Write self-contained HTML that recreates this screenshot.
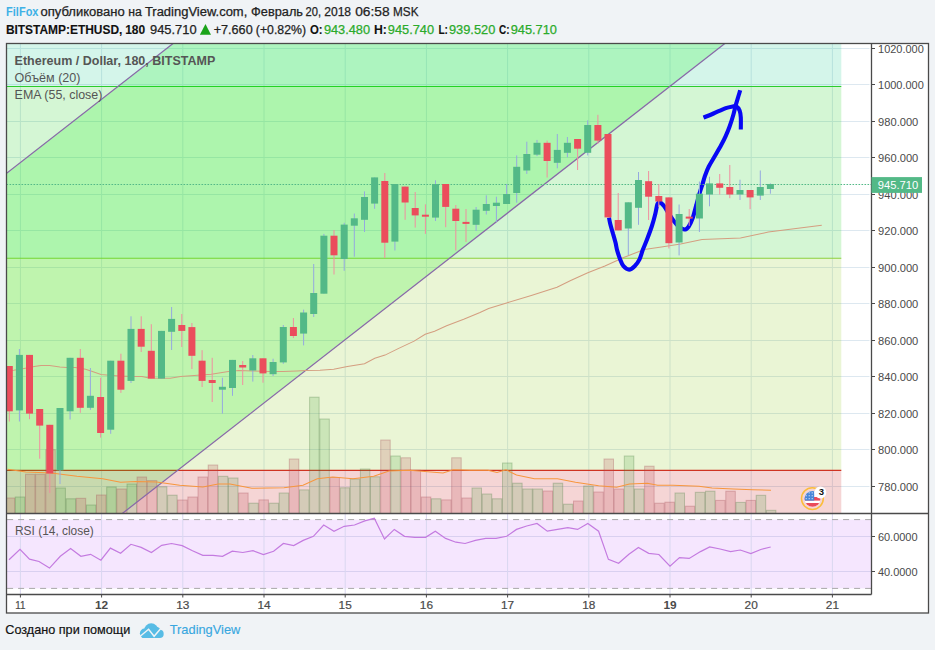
<!DOCTYPE html>
<html><head><meta charset="utf-8"><style>
html,body{margin:0;padding:0;width:935px;height:650px;overflow:hidden;background:#f0f3f6;font-family:"Liberation Sans",sans-serif;}
</style></head><body>
<svg width="935" height="650" viewBox="0 0 935 650" style="position:absolute;left:0;top:0">
<defs><clipPath id="main"><rect x="6.5" y="43.5" width="865.0" height="470.0"/></clipPath>
<clipPath id="rsi"><rect x="6.5" y="513.5" width="865.0" height="81.0"/></clipPath>
<clipPath id="flag"><circle cx="812.5" cy="498.9" r="7.9"/></clipPath></defs>
<rect x="6.5" y="43.5" width="922.0" height="569.5" fill="#fff"/>
<g clip-path="url(#main)">
<line x1="6.5" y1="48.5" x2="869.5" y2="48.5" stroke="#dde8f0" stroke-width="1"/>
<line x1="6.5" y1="84.5" x2="869.5" y2="84.5" stroke="#dde8f0" stroke-width="1"/>
<line x1="6.5" y1="121.5" x2="869.5" y2="121.5" stroke="#dde8f0" stroke-width="1"/>
<line x1="6.5" y1="157.5" x2="869.5" y2="157.5" stroke="#dde8f0" stroke-width="1"/>
<line x1="6.5" y1="194.5" x2="869.5" y2="194.5" stroke="#dde8f0" stroke-width="1"/>
<line x1="6.5" y1="230.5" x2="869.5" y2="230.5" stroke="#dde8f0" stroke-width="1"/>
<line x1="6.5" y1="267.5" x2="869.5" y2="267.5" stroke="#dde8f0" stroke-width="1"/>
<line x1="6.5" y1="303.5" x2="869.5" y2="303.5" stroke="#dde8f0" stroke-width="1"/>
<line x1="6.5" y1="340.5" x2="869.5" y2="340.5" stroke="#dde8f0" stroke-width="1"/>
<line x1="6.5" y1="376.5" x2="869.5" y2="376.5" stroke="#dde8f0" stroke-width="1"/>
<line x1="6.5" y1="413.5" x2="869.5" y2="413.5" stroke="#dde8f0" stroke-width="1"/>
<line x1="6.5" y1="449.5" x2="869.5" y2="449.5" stroke="#dde8f0" stroke-width="1"/>
<line x1="6.5" y1="486.5" x2="869.5" y2="486.5" stroke="#dde8f0" stroke-width="1"/>
<line x1="20.4" y1="43.5" x2="20.4" y2="513.5" stroke="#dde8f0" stroke-width="1"/>
<line x1="101.6" y1="43.5" x2="101.6" y2="513.5" stroke="#dde8f0" stroke-width="1"/>
<line x1="182.8" y1="43.5" x2="182.8" y2="513.5" stroke="#dde8f0" stroke-width="1"/>
<line x1="264.0" y1="43.5" x2="264.0" y2="513.5" stroke="#dde8f0" stroke-width="1"/>
<line x1="345.2" y1="43.5" x2="345.2" y2="513.5" stroke="#dde8f0" stroke-width="1"/>
<line x1="426.4" y1="43.5" x2="426.4" y2="513.5" stroke="#dde8f0" stroke-width="1"/>
<line x1="507.6" y1="43.5" x2="507.6" y2="513.5" stroke="#dde8f0" stroke-width="1"/>
<line x1="588.8" y1="43.5" x2="588.8" y2="513.5" stroke="#dde8f0" stroke-width="1"/>
<line x1="670.0" y1="43.5" x2="670.0" y2="513.5" stroke="#dde8f0" stroke-width="1"/>
<line x1="751.2" y1="43.5" x2="751.2" y2="513.5" stroke="#dde8f0" stroke-width="1"/>
<line x1="832.4" y1="43.5" x2="832.4" y2="513.5" stroke="#dde8f0" stroke-width="1"/>
<rect x="6.5" y="33.5" width="834.8" height="53.0" fill="rgba(0,196,132,0.17)"/>
<rect x="6.5" y="86.5" width="834.8" height="171.7" fill="rgba(0,200,0,0.17)"/>
<rect x="6.5" y="258.2" width="834.8" height="212.2" fill="rgba(127,194,0,0.165)"/>
<rect x="6.5" y="470.4" width="834.8" height="48.10000000000002" fill="rgba(194,0,0,0.165)"/>
<line x1="6.5" y1="86.5" x2="841.3" y2="86.5" stroke="#2ccc2c" stroke-width="1.1"/>
<line x1="6.5" y1="258.2" x2="841.3" y2="258.2" stroke="#8cd03c" stroke-width="1.1"/>
<line x1="6.5" y1="470.4" x2="841.3" y2="470.4" stroke="#cf3322" stroke-width="1.1"/>
<polygon points="0,178.5 900,-523.5 900,-93.1 0,608.9" fill="rgba(0,245,0,0.18)"/>
<rect x="5.2" y="498.0" width="9.5" height="17.5" fill="rgba(190,80,90,0.22)" stroke="rgba(160,70,80,0.3)" stroke-width="1"/>
<rect x="15.3" y="497.0" width="9.5" height="18.5" fill="rgba(80,163,68,0.2)" stroke="rgba(70,120,60,0.3)" stroke-width="1"/>
<rect x="25.5" y="474.2" width="9.5" height="41.3" fill="rgba(190,80,90,0.22)" stroke="rgba(160,70,80,0.3)" stroke-width="1"/>
<rect x="35.6" y="474.2" width="9.5" height="41.3" fill="rgba(190,80,90,0.22)" stroke="rgba(160,70,80,0.3)" stroke-width="1"/>
<rect x="45.8" y="449.8" width="9.5" height="65.7" fill="rgba(190,80,90,0.22)" stroke="rgba(160,70,80,0.3)" stroke-width="1"/>
<rect x="55.9" y="488.0" width="9.5" height="27.5" fill="rgba(80,163,68,0.2)" stroke="rgba(70,120,60,0.3)" stroke-width="1"/>
<rect x="66.1" y="498.8" width="9.5" height="16.7" fill="rgba(80,163,68,0.2)" stroke="rgba(70,120,60,0.3)" stroke-width="1"/>
<rect x="76.2" y="498.3" width="9.5" height="17.2" fill="rgba(190,80,90,0.22)" stroke="rgba(160,70,80,0.3)" stroke-width="1"/>
<rect x="86.4" y="505.0" width="9.5" height="10.5" fill="rgba(80,163,68,0.2)" stroke="rgba(70,120,60,0.3)" stroke-width="1"/>
<rect x="96.5" y="495.0" width="9.5" height="20.5" fill="rgba(190,80,90,0.22)" stroke="rgba(160,70,80,0.3)" stroke-width="1"/>
<rect x="106.7" y="487.0" width="9.5" height="28.5" fill="rgba(80,163,68,0.2)" stroke="rgba(70,120,60,0.3)" stroke-width="1"/>
<rect x="116.8" y="489.0" width="9.5" height="26.5" fill="rgba(190,80,90,0.22)" stroke="rgba(160,70,80,0.3)" stroke-width="1"/>
<rect x="127.0" y="484.0" width="9.5" height="31.5" fill="rgba(80,163,68,0.2)" stroke="rgba(70,120,60,0.3)" stroke-width="1"/>
<rect x="137.1" y="477.0" width="9.5" height="38.5" fill="rgba(190,80,90,0.22)" stroke="rgba(160,70,80,0.3)" stroke-width="1"/>
<rect x="147.3" y="480.6" width="9.5" height="34.9" fill="rgba(190,80,90,0.22)" stroke="rgba(160,70,80,0.3)" stroke-width="1"/>
<rect x="157.4" y="486.8" width="9.5" height="28.7" fill="rgba(80,163,68,0.2)" stroke="rgba(70,120,60,0.3)" stroke-width="1"/>
<rect x="167.6" y="495.2" width="9.5" height="20.3" fill="rgba(80,163,68,0.2)" stroke="rgba(70,120,60,0.3)" stroke-width="1"/>
<rect x="177.7" y="500.0" width="9.5" height="15.5" fill="rgba(190,80,90,0.22)" stroke="rgba(160,70,80,0.3)" stroke-width="1"/>
<rect x="187.9" y="497.0" width="9.5" height="18.5" fill="rgba(190,80,90,0.22)" stroke="rgba(160,70,80,0.3)" stroke-width="1"/>
<rect x="198.0" y="477.0" width="9.5" height="38.5" fill="rgba(190,80,90,0.22)" stroke="rgba(160,70,80,0.3)" stroke-width="1"/>
<rect x="208.2" y="465.0" width="9.5" height="50.5" fill="rgba(190,80,90,0.22)" stroke="rgba(160,70,80,0.3)" stroke-width="1"/>
<rect x="218.3" y="476.3" width="9.5" height="39.2" fill="rgba(80,163,68,0.2)" stroke="rgba(70,120,60,0.3)" stroke-width="1"/>
<rect x="228.5" y="478.0" width="9.5" height="37.5" fill="rgba(80,163,68,0.2)" stroke="rgba(70,120,60,0.3)" stroke-width="1"/>
<rect x="238.6" y="493.0" width="9.5" height="22.5" fill="rgba(190,80,90,0.22)" stroke="rgba(160,70,80,0.3)" stroke-width="1"/>
<rect x="248.8" y="503.2" width="9.5" height="12.3" fill="rgba(80,163,68,0.2)" stroke="rgba(70,120,60,0.3)" stroke-width="1"/>
<rect x="258.9" y="499.9" width="9.5" height="15.6" fill="rgba(190,80,90,0.22)" stroke="rgba(160,70,80,0.3)" stroke-width="1"/>
<rect x="269.1" y="503.2" width="9.5" height="12.3" fill="rgba(80,163,68,0.2)" stroke="rgba(70,120,60,0.3)" stroke-width="1"/>
<rect x="279.2" y="493.0" width="9.5" height="22.5" fill="rgba(80,163,68,0.2)" stroke="rgba(70,120,60,0.3)" stroke-width="1"/>
<rect x="289.3" y="459.0" width="9.5" height="56.5" fill="rgba(190,80,90,0.22)" stroke="rgba(160,70,80,0.3)" stroke-width="1"/>
<rect x="299.5" y="489.9" width="9.5" height="25.6" fill="rgba(80,163,68,0.2)" stroke="rgba(70,120,60,0.3)" stroke-width="1"/>
<rect x="309.6" y="397.2" width="9.5" height="118.3" fill="rgba(80,163,68,0.2)" stroke="rgba(70,120,60,0.3)" stroke-width="1"/>
<rect x="319.8" y="419.0" width="9.5" height="96.5" fill="rgba(80,163,68,0.2)" stroke="rgba(70,120,60,0.3)" stroke-width="1"/>
<rect x="329.9" y="477.5" width="9.5" height="38.0" fill="rgba(190,80,90,0.22)" stroke="rgba(160,70,80,0.3)" stroke-width="1"/>
<rect x="340.1" y="487.8" width="9.5" height="27.7" fill="rgba(80,163,68,0.2)" stroke="rgba(70,120,60,0.3)" stroke-width="1"/>
<rect x="350.2" y="479.0" width="9.5" height="36.5" fill="rgba(80,163,68,0.2)" stroke="rgba(70,120,60,0.3)" stroke-width="1"/>
<rect x="360.4" y="469.0" width="9.5" height="46.5" fill="rgba(80,163,68,0.2)" stroke="rgba(70,120,60,0.3)" stroke-width="1"/>
<rect x="370.5" y="476.8" width="9.5" height="38.7" fill="rgba(80,163,68,0.2)" stroke="rgba(70,120,60,0.3)" stroke-width="1"/>
<rect x="380.7" y="440.0" width="9.5" height="75.5" fill="rgba(190,80,90,0.22)" stroke="rgba(160,70,80,0.3)" stroke-width="1"/>
<rect x="390.8" y="456.0" width="9.5" height="59.5" fill="rgba(80,163,68,0.2)" stroke="rgba(70,120,60,0.3)" stroke-width="1"/>
<rect x="401.0" y="457.8" width="9.5" height="57.7" fill="rgba(190,80,90,0.22)" stroke="rgba(160,70,80,0.3)" stroke-width="1"/>
<rect x="411.1" y="470.3" width="9.5" height="45.2" fill="rgba(190,80,90,0.22)" stroke="rgba(160,70,80,0.3)" stroke-width="1"/>
<rect x="421.3" y="497.0" width="9.5" height="18.5" fill="rgba(190,80,90,0.22)" stroke="rgba(160,70,80,0.3)" stroke-width="1"/>
<rect x="431.4" y="498.8" width="9.5" height="16.7" fill="rgba(80,163,68,0.2)" stroke="rgba(70,120,60,0.3)" stroke-width="1"/>
<rect x="441.6" y="499.9" width="9.5" height="15.6" fill="rgba(190,80,90,0.22)" stroke="rgba(160,70,80,0.3)" stroke-width="1"/>
<rect x="451.7" y="457.8" width="9.5" height="57.7" fill="rgba(190,80,90,0.22)" stroke="rgba(160,70,80,0.3)" stroke-width="1"/>
<rect x="461.9" y="498.0" width="9.5" height="17.5" fill="rgba(190,80,90,0.22)" stroke="rgba(160,70,80,0.3)" stroke-width="1"/>
<rect x="472.0" y="488.0" width="9.5" height="27.5" fill="rgba(80,163,68,0.2)" stroke="rgba(70,120,60,0.3)" stroke-width="1"/>
<rect x="482.2" y="494.0" width="9.5" height="21.5" fill="rgba(80,163,68,0.2)" stroke="rgba(70,120,60,0.3)" stroke-width="1"/>
<rect x="492.3" y="498.8" width="9.5" height="16.7" fill="rgba(80,163,68,0.2)" stroke="rgba(70,120,60,0.3)" stroke-width="1"/>
<rect x="502.5" y="463.0" width="9.5" height="52.5" fill="rgba(80,163,68,0.2)" stroke="rgba(70,120,60,0.3)" stroke-width="1"/>
<rect x="512.6" y="483.2" width="9.5" height="32.3" fill="rgba(80,163,68,0.2)" stroke="rgba(70,120,60,0.3)" stroke-width="1"/>
<rect x="522.8" y="489.0" width="9.5" height="26.5" fill="rgba(80,163,68,0.2)" stroke="rgba(70,120,60,0.3)" stroke-width="1"/>
<rect x="532.9" y="489.0" width="9.5" height="26.5" fill="rgba(80,163,68,0.2)" stroke="rgba(70,120,60,0.3)" stroke-width="1"/>
<rect x="543.1" y="491.0" width="9.5" height="24.5" fill="rgba(190,80,90,0.22)" stroke="rgba(160,70,80,0.3)" stroke-width="1"/>
<rect x="553.2" y="483.2" width="9.5" height="32.3" fill="rgba(80,163,68,0.2)" stroke="rgba(70,120,60,0.3)" stroke-width="1"/>
<rect x="563.4" y="504.2" width="9.5" height="11.3" fill="rgba(80,163,68,0.2)" stroke="rgba(70,120,60,0.3)" stroke-width="1"/>
<rect x="573.5" y="501.0" width="9.5" height="14.5" fill="rgba(190,80,90,0.22)" stroke="rgba(160,70,80,0.3)" stroke-width="1"/>
<rect x="583.7" y="486.0" width="9.5" height="29.5" fill="rgba(80,163,68,0.2)" stroke="rgba(70,120,60,0.3)" stroke-width="1"/>
<rect x="593.8" y="492.0" width="9.5" height="23.5" fill="rgba(190,80,90,0.22)" stroke="rgba(160,70,80,0.3)" stroke-width="1"/>
<rect x="604.0" y="459.0" width="9.5" height="56.5" fill="rgba(190,80,90,0.22)" stroke="rgba(160,70,80,0.3)" stroke-width="1"/>
<rect x="614.1" y="489.0" width="9.5" height="26.5" fill="rgba(190,80,90,0.22)" stroke="rgba(160,70,80,0.3)" stroke-width="1"/>
<rect x="624.3" y="456.0" width="9.5" height="59.5" fill="rgba(80,163,68,0.2)" stroke="rgba(70,120,60,0.3)" stroke-width="1"/>
<rect x="634.4" y="489.0" width="9.5" height="26.5" fill="rgba(80,163,68,0.2)" stroke="rgba(70,120,60,0.3)" stroke-width="1"/>
<rect x="644.6" y="466.2" width="9.5" height="49.3" fill="rgba(190,80,90,0.22)" stroke="rgba(160,70,80,0.3)" stroke-width="1"/>
<rect x="654.7" y="503.2" width="9.5" height="12.3" fill="rgba(190,80,90,0.22)" stroke="rgba(160,70,80,0.3)" stroke-width="1"/>
<rect x="664.9" y="502.2" width="9.5" height="13.3" fill="rgba(190,80,90,0.22)" stroke="rgba(160,70,80,0.3)" stroke-width="1"/>
<rect x="675.0" y="493.0" width="9.5" height="22.5" fill="rgba(80,163,68,0.2)" stroke="rgba(70,120,60,0.3)" stroke-width="1"/>
<rect x="685.2" y="506.2" width="9.5" height="9.3" fill="rgba(190,80,90,0.22)" stroke="rgba(160,70,80,0.3)" stroke-width="1"/>
<rect x="695.3" y="492.3" width="9.5" height="23.2" fill="rgba(80,163,68,0.2)" stroke="rgba(70,120,60,0.3)" stroke-width="1"/>
<rect x="705.5" y="491.2" width="9.5" height="24.3" fill="rgba(80,163,68,0.2)" stroke="rgba(70,120,60,0.3)" stroke-width="1"/>
<rect x="715.6" y="500.4" width="9.5" height="15.1" fill="rgba(190,80,90,0.22)" stroke="rgba(160,70,80,0.3)" stroke-width="1"/>
<rect x="725.8" y="491.2" width="9.5" height="24.3" fill="rgba(190,80,90,0.22)" stroke="rgba(160,70,80,0.3)" stroke-width="1"/>
<rect x="735.9" y="502.4" width="9.5" height="13.1" fill="rgba(80,163,68,0.2)" stroke="rgba(70,120,60,0.3)" stroke-width="1"/>
<rect x="746.1" y="500.4" width="9.5" height="15.1" fill="rgba(190,80,90,0.22)" stroke="rgba(160,70,80,0.3)" stroke-width="1"/>
<rect x="756.2" y="495.3" width="9.5" height="20.2" fill="rgba(80,163,68,0.2)" stroke="rgba(70,120,60,0.3)" stroke-width="1"/>
<rect x="766.4" y="510.3" width="9.5" height="5.2" fill="rgba(80,163,68,0.2)" stroke="rgba(70,120,60,0.3)" stroke-width="1"/>
<line x1="0" y1="178.5" x2="900" y2="-523.5" stroke="#8868a8" stroke-width="1.25"/>
<line x1="0" y1="608.9" x2="900" y2="-93.1" stroke="#8868a8" stroke-width="1.25"/>
<polyline points="7.7,469.3 25.7,471.9 51.3,473 77,476.3 102.7,478.8 120.6,482.2 136,481.6 156.6,482 179.7,485.2 202.8,487 218.2,484 230,484 251.8,488.3 284,487.8 303,485.2 317.3,478.8 332.7,477 353,478.8 373.7,476.3 389,471 409.7,470.3 443,473 453.3,469.8 470,470.3 488,470.3 497,472.4 506,469.8 516.5,475 534.4,478.8 557.5,478.8 575.5,482.2 598.6,485.7 616.6,487.3 629.4,484 647.4,483.2 657.6,485.2 673,485.2 699,486.3 712,488 733.5,488.9 752.7,489.7 771,490.2" fill="none" stroke="#f7963e" stroke-width="1.05"/>
<polyline points="6.8,370.5 13.7,370.2 24,368.5 34.2,366.6 41,365.4 49.6,365.4 59.9,367.1 66.7,367.5 75.3,367.6 85.6,369.2 92.4,371.4 101,374.5 109.5,375.3 119.8,376 133.5,376.5 142,376.5 148.9,377.9 160,378.2 170.3,378.2 180.5,376.5 197.6,375.3 211.3,374.3 228.4,371.4 238.7,370.5 252.4,370.9 269.5,371.4 283.2,371.4 296.9,370.9 305.4,370.5 320,370.2 333.7,369.3 347.4,366.4 364.5,363.7 374.8,358.2 385,355.1 398.7,348.4 414.1,341.1 425.2,334.2 434.6,331.3 446.6,325.7 463.7,319.2 480,312.4 488.6,308.4 507.4,302.7 531.3,295.5 557,287.3 570.7,280.5 587.8,272.8 604.9,265.9 623.7,257.4 644.3,249.6 661.4,247.1 680.6,243.9 702,239.6 740.5,238.1 768.3,232.1 821.8,225.2" fill="none" stroke="#d49e80" stroke-width="1.05"/>
<path d="M609,217.7 C609.2,218.8 609.7,221.8 610.4,224.6 C611.1,227.4 612.4,231.3 613.2,234.3 C614.1,237.3 614.8,239.8 615.5,242.6 C616.2,245.4 616.5,248.1 617.3,250.9 C618.1,253.7 619.1,256.8 620.1,259.3 C621.1,261.9 622.0,264.5 623.5,266.2 C625.0,267.9 627.2,269.6 629.1,269.6 C631.0,269.6 632.9,267.9 634.6,266.2 C636.3,264.5 638.1,262.1 639.5,259.3 C640.9,256.5 641.6,252.9 642.9,249.6 C644.2,246.2 645.6,243.1 647.1,239.2 C648.6,235.3 650.5,230.3 651.9,226 C653.3,221.7 654.5,217.2 655.4,213.5 C656.3,209.8 656.7,205.7 657.5,203.9 C658.3,202.1 659.1,202.1 660.2,202.5 C661.4,202.9 663.1,205.0 664.4,206.6 C665.7,208.2 666.4,209.9 667.9,212.2 C669.4,214.5 671.6,218.1 673.4,220.5 C675.2,222.9 677.0,225.2 678.9,226.7 C680.8,228.2 682.9,229.5 684.5,229.5 C686.1,229.5 687.2,228.7 688.6,226.7 C690.0,224.7 691.5,221.3 692.8,217.7 C694.1,214.1 695.1,209.3 696.3,205.2 C697.4,201.0 698.6,196.4 699.7,192.8 C700.8,189.2 701.8,186.3 702.7,183.5 C703.6,180.7 704.0,178.6 705,175.8 C706.0,173.0 707.1,169.8 708.8,166.5 C710.5,163.2 712.9,159.4 715,155.8 C717.1,152.2 719.4,148.3 721.2,145 C723.0,141.7 724.4,138.9 725.8,135.8 C727.2,132.7 728.3,130.1 729.6,126.5 C730.9,122.9 732.5,117.8 733.5,114.2 C734.5,110.6 735.0,107.8 735.8,105 C736.6,102.2 737.4,99.8 738.1,97.3 C738.8,94.8 739.9,91.5 740.2,90.3" fill="none" stroke="#0808f4" stroke-width="4.1" stroke-linecap="butt" stroke-linejoin="round"/>
<path d="M703.5,117.6 C705.2,116.9 709.8,115.1 713.5,113.5 C717.2,111.9 722.6,109.3 725.8,108.1 C729.0,106.9 730.9,106.8 732.7,106.5 C734.5,106.2 735.4,105.8 736.5,106.5 C737.6,107.2 738.9,108.6 739.6,110.4 C740.3,112.2 740.6,114.1 740.8,117.3 C741.0,120.5 740.8,127.5 740.8,129.6" fill="none" stroke="#0808f4" stroke-width="4.1" stroke-linecap="butt" stroke-linejoin="round"/>
<line x1="6.5" y1="184.5" x2="871.5" y2="184.5" stroke="#53b987" stroke-width="1" stroke-dasharray="1.6,1.4"/>
<rect x="8.8" y="366.0" width="1" height="55.5" fill="#f08fa0"/>
<rect x="5.8" y="366.0" width="7" height="45.3" fill="#eb4d5c"/>
<rect x="18.9" y="349.0" width="1" height="72.5" fill="#95a9df"/>
<rect x="15.9" y="354.9" width="7" height="55.5" fill="#53b987"/>
<rect x="29.0" y="354.9" width="1" height="64.3" fill="#f08fa0"/>
<rect x="26.0" y="354.9" width="7" height="58.7" fill="#eb4d5c"/>
<rect x="39.2" y="409.0" width="1" height="49.7" fill="#f08fa0"/>
<rect x="36.2" y="409.0" width="7" height="16.6" fill="#eb4d5c"/>
<rect x="49.3" y="424.8" width="1" height="68.2" fill="#f08fa0"/>
<rect x="46.3" y="424.8" width="7" height="48.7" fill="#eb4d5c"/>
<rect x="59.5" y="408.0" width="1" height="76.0" fill="#95a9df"/>
<rect x="56.5" y="408.0" width="7" height="62.4" fill="#53b987"/>
<rect x="69.6" y="357.8" width="1" height="61.7" fill="#95a9df"/>
<rect x="66.6" y="357.8" width="7" height="53.5" fill="#53b987"/>
<rect x="79.8" y="349.0" width="1" height="63.8" fill="#f08fa0"/>
<rect x="76.8" y="357.8" width="7" height="50.0" fill="#eb4d5c"/>
<rect x="89.9" y="368.0" width="1" height="41.8" fill="#95a9df"/>
<rect x="86.9" y="395.8" width="7" height="12.0" fill="#53b987"/>
<rect x="100.1" y="377.7" width="1" height="59.9" fill="#f08fa0"/>
<rect x="97.1" y="397.0" width="7" height="36.0" fill="#eb4d5c"/>
<rect x="110.2" y="360.7" width="1" height="73.1" fill="#95a9df"/>
<rect x="107.2" y="360.7" width="7" height="69.0" fill="#53b987"/>
<rect x="120.4" y="353.7" width="1" height="39.2" fill="#f08fa0"/>
<rect x="117.4" y="360.7" width="7" height="29.0" fill="#eb4d5c"/>
<rect x="130.5" y="316.3" width="1" height="66.7" fill="#95a9df"/>
<rect x="127.5" y="328.9" width="7" height="52.0" fill="#53b987"/>
<rect x="140.7" y="316.3" width="1" height="35.7" fill="#f08fa0"/>
<rect x="137.7" y="328.9" width="7" height="17.8" fill="#eb4d5c"/>
<rect x="150.8" y="324.2" width="1" height="54.4" fill="#f08fa0"/>
<rect x="147.8" y="350.8" width="7" height="27.8" fill="#eb4d5c"/>
<rect x="161.0" y="330.9" width="1" height="47.7" fill="#95a9df"/>
<rect x="158.0" y="330.9" width="7" height="47.7" fill="#53b987"/>
<rect x="171.1" y="307.0" width="1" height="43.0" fill="#95a9df"/>
<rect x="168.1" y="318.9" width="7" height="12.9" fill="#53b987"/>
<rect x="181.3" y="314.0" width="1" height="33.0" fill="#f08fa0"/>
<rect x="178.3" y="325.0" width="7" height="5.9" fill="#eb4d5c"/>
<rect x="191.4" y="323.0" width="1" height="46.0" fill="#f08fa0"/>
<rect x="188.4" y="327.1" width="7" height="28.7" fill="#eb4d5c"/>
<rect x="201.6" y="350.2" width="1" height="36.8" fill="#f08fa0"/>
<rect x="198.6" y="360.7" width="7" height="20.2" fill="#eb4d5c"/>
<rect x="211.7" y="357.8" width="1" height="44.2" fill="#f08fa0"/>
<rect x="208.7" y="380.0" width="7" height="3.0" fill="#eb4d5c"/>
<rect x="221.9" y="377.7" width="1" height="35.9" fill="#95a9df"/>
<rect x="218.9" y="386.8" width="7" height="2.9" fill="#53b987"/>
<rect x="232.0" y="359.9" width="1" height="35.9" fill="#95a9df"/>
<rect x="229.0" y="359.9" width="7" height="28.1" fill="#53b987"/>
<rect x="242.2" y="361.0" width="1" height="24.0" fill="#f08fa0"/>
<rect x="239.2" y="365.0" width="7" height="2.5" fill="#eb4d5c"/>
<rect x="252.3" y="355.0" width="1" height="26.6" fill="#95a9df"/>
<rect x="249.3" y="358.3" width="7" height="12.2" fill="#53b987"/>
<rect x="262.5" y="358.3" width="1" height="24.4" fill="#f08fa0"/>
<rect x="259.5" y="358.3" width="7" height="15.1" fill="#eb4d5c"/>
<rect x="272.6" y="358.7" width="1" height="17.3" fill="#95a9df"/>
<rect x="269.6" y="362.0" width="7" height="12.2" fill="#53b987"/>
<rect x="282.8" y="325.0" width="1" height="38.8" fill="#95a9df"/>
<rect x="279.8" y="327.0" width="7" height="35.4" fill="#53b987"/>
<rect x="292.9" y="318.0" width="1" height="20.0" fill="#f08fa0"/>
<rect x="289.9" y="327.0" width="7" height="9.0" fill="#eb4d5c"/>
<rect x="303.1" y="309.6" width="1" height="35.8" fill="#95a9df"/>
<rect x="300.1" y="312.5" width="7" height="21.1" fill="#53b987"/>
<rect x="313.2" y="264.0" width="1" height="53.0" fill="#95a9df"/>
<rect x="310.2" y="293.0" width="7" height="21.0" fill="#53b987"/>
<rect x="323.4" y="233.9" width="1" height="59.8" fill="#95a9df"/>
<rect x="320.4" y="235.7" width="7" height="58.0" fill="#53b987"/>
<rect x="333.5" y="230.0" width="1" height="44.5" fill="#f08fa0"/>
<rect x="330.5" y="235.7" width="7" height="19.6" fill="#eb4d5c"/>
<rect x="343.7" y="222.8" width="1" height="48.0" fill="#95a9df"/>
<rect x="340.7" y="224.6" width="7" height="34.4" fill="#53b987"/>
<rect x="353.8" y="213.5" width="1" height="43.2" fill="#95a9df"/>
<rect x="350.8" y="218.3" width="7" height="7.4" fill="#53b987"/>
<rect x="364.0" y="191.4" width="1" height="40.6" fill="#95a9df"/>
<rect x="361.0" y="197.0" width="7" height="22.8" fill="#53b987"/>
<rect x="374.1" y="177.4" width="1" height="31.4" fill="#95a9df"/>
<rect x="371.1" y="177.4" width="7" height="26.2" fill="#53b987"/>
<rect x="384.3" y="173.0" width="1" height="84.9" fill="#f08fa0"/>
<rect x="381.3" y="181.0" width="7" height="61.7" fill="#eb4d5c"/>
<rect x="394.4" y="184.0" width="1" height="66.5" fill="#95a9df"/>
<rect x="391.4" y="184.0" width="7" height="57.6" fill="#53b987"/>
<rect x="404.6" y="186.6" width="1" height="33.2" fill="#f08fa0"/>
<rect x="401.6" y="186.6" width="7" height="15.9" fill="#eb4d5c"/>
<rect x="414.7" y="192.0" width="1" height="35.6" fill="#f08fa0"/>
<rect x="411.7" y="208.0" width="7" height="7.4" fill="#eb4d5c"/>
<rect x="424.9" y="204.3" width="1" height="29.6" fill="#f08fa0"/>
<rect x="421.9" y="214.7" width="7" height="2.0" fill="#eb4d5c"/>
<rect x="435.0" y="180.3" width="1" height="40.7" fill="#95a9df"/>
<rect x="432.0" y="184.0" width="7" height="33.6" fill="#53b987"/>
<rect x="445.2" y="184.0" width="1" height="43.2" fill="#f08fa0"/>
<rect x="442.2" y="184.0" width="7" height="22.9" fill="#eb4d5c"/>
<rect x="455.3" y="205.0" width="1" height="45.5" fill="#f08fa0"/>
<rect x="452.3" y="208.7" width="7" height="12.3" fill="#eb4d5c"/>
<rect x="465.5" y="209.0" width="1" height="33.0" fill="#f08fa0"/>
<rect x="462.5" y="221.9" width="7" height="2.0" fill="#eb4d5c"/>
<rect x="475.6" y="207.0" width="1" height="24.0" fill="#95a9df"/>
<rect x="472.6" y="209.7" width="7" height="15.1" fill="#53b987"/>
<rect x="485.8" y="195.3" width="1" height="19.2" fill="#95a9df"/>
<rect x="482.8" y="204.0" width="7" height="6.8" fill="#53b987"/>
<rect x="495.9" y="196.7" width="1" height="25.2" fill="#95a9df"/>
<rect x="492.9" y="202.7" width="7" height="3.3" fill="#53b987"/>
<rect x="506.1" y="184.0" width="1" height="20.0" fill="#95a9df"/>
<rect x="503.1" y="194.0" width="7" height="10.0" fill="#53b987"/>
<rect x="516.2" y="155.4" width="1" height="47.3" fill="#95a9df"/>
<rect x="513.2" y="166.8" width="7" height="26.2" fill="#53b987"/>
<rect x="526.3" y="141.7" width="1" height="32.2" fill="#95a9df"/>
<rect x="523.3" y="154.0" width="7" height="16.5" fill="#53b987"/>
<rect x="536.5" y="139.9" width="1" height="16.2" fill="#95a9df"/>
<rect x="533.5" y="142.8" width="7" height="11.9" fill="#53b987"/>
<rect x="546.6" y="140.6" width="1" height="36.9" fill="#f08fa0"/>
<rect x="543.6" y="142.8" width="7" height="18.2" fill="#eb4d5c"/>
<rect x="556.8" y="134.0" width="1" height="34.3" fill="#95a9df"/>
<rect x="553.8" y="149.9" width="7" height="12.9" fill="#53b987"/>
<rect x="566.9" y="137.0" width="1" height="20.2" fill="#95a9df"/>
<rect x="563.9" y="142.8" width="7" height="10.0" fill="#53b987"/>
<rect x="577.1" y="139.0" width="1" height="31.0" fill="#f08fa0"/>
<rect x="574.1" y="139.0" width="7" height="9.7" fill="#eb4d5c"/>
<rect x="587.2" y="120.3" width="1" height="35.1" fill="#95a9df"/>
<rect x="584.2" y="125.0" width="7" height="27.8" fill="#53b987"/>
<rect x="597.4" y="114.8" width="1" height="28.8" fill="#f08fa0"/>
<rect x="594.4" y="125.0" width="7" height="15.6" fill="#eb4d5c"/>
<rect x="607.5" y="134.0" width="1" height="83.4" fill="#f08fa0"/>
<rect x="604.5" y="134.0" width="7" height="83.4" fill="#eb4d5c"/>
<rect x="617.7" y="193.0" width="1" height="37.4" fill="#f08fa0"/>
<rect x="614.7" y="220.0" width="7" height="10.4" fill="#eb4d5c"/>
<rect x="627.8" y="202.3" width="1" height="52.7" fill="#95a9df"/>
<rect x="624.8" y="202.3" width="7" height="26.2" fill="#53b987"/>
<rect x="638.0" y="172.0" width="1" height="52.8" fill="#95a9df"/>
<rect x="635.0" y="180.0" width="7" height="27.8" fill="#53b987"/>
<rect x="648.1" y="171.0" width="1" height="49.0" fill="#f08fa0"/>
<rect x="645.1" y="181.2" width="7" height="15.5" fill="#eb4d5c"/>
<rect x="658.3" y="184.0" width="1" height="23.0" fill="#f08fa0"/>
<rect x="655.3" y="196.0" width="7" height="5.5" fill="#eb4d5c"/>
<rect x="668.4" y="197.4" width="1" height="51.1" fill="#f08fa0"/>
<rect x="665.4" y="197.4" width="7" height="45.8" fill="#eb4d5c"/>
<rect x="678.6" y="204.5" width="1" height="50.9" fill="#95a9df"/>
<rect x="675.6" y="214.0" width="7" height="28.5" fill="#53b987"/>
<rect x="688.7" y="209.0" width="1" height="16.9" fill="#f08fa0"/>
<rect x="685.7" y="216.6" width="7" height="2.0" fill="#eb4d5c"/>
<rect x="698.9" y="181.5" width="1" height="50.5" fill="#95a9df"/>
<rect x="695.9" y="193.7" width="7" height="24.8" fill="#53b987"/>
<rect x="709.0" y="176.7" width="1" height="29.6" fill="#95a9df"/>
<rect x="706.0" y="183.4" width="7" height="11.1" fill="#53b987"/>
<rect x="719.2" y="174.0" width="1" height="20.5" fill="#f08fa0"/>
<rect x="716.2" y="183.4" width="7" height="4.4" fill="#eb4d5c"/>
<rect x="729.3" y="165.0" width="1" height="33.2" fill="#f08fa0"/>
<rect x="726.3" y="187.0" width="7" height="7.5" fill="#eb4d5c"/>
<rect x="739.5" y="179.7" width="1" height="20.3" fill="#95a9df"/>
<rect x="736.5" y="190.0" width="7" height="4.5" fill="#53b987"/>
<rect x="749.6" y="190.0" width="1" height="19.2" fill="#f08fa0"/>
<rect x="746.6" y="190.0" width="7" height="7.4" fill="#eb4d5c"/>
<rect x="759.8" y="170.5" width="1" height="29.5" fill="#95a9df"/>
<rect x="756.8" y="187.0" width="7" height="8.6" fill="#53b987"/>
<rect x="769.9" y="183.4" width="1" height="10.3" fill="#95a9df"/>
<rect x="766.9" y="184.0" width="7" height="5.0" fill="#53b987"/>
<circle cx="812.4" cy="498.6" r="10.9" fill="none" stroke="#fbbd3b" stroke-width="1.5"/>
<g clip-path="url(#flag)"><rect x="803" y="489" width="19" height="19" fill="#fff"/><rect x="803" y="497" width="19" height="3.6" fill="#ea4b5a"/><rect x="803" y="503" width="19" height="5" fill="#ea4b5a"/><rect x="803" y="489" width="11.2" height="11.6" fill="#4a86d8"/>
<rect x="805.7" y="492.3" width="1" height="1.1" fill="#fff" opacity="0.85"/>
<rect x="808.7" y="492.3" width="1" height="1.1" fill="#fff" opacity="0.85"/>
<rect x="811.7" y="492.3" width="1" height="1.1" fill="#fff" opacity="0.85"/>
<rect x="805.7" y="495.2" width="1" height="1.1" fill="#fff" opacity="0.85"/>
<rect x="808.7" y="495.2" width="1" height="1.1" fill="#fff" opacity="0.85"/>
<rect x="811.7" y="495.2" width="1" height="1.1" fill="#fff" opacity="0.85"/>
<rect x="805.7" y="498.1" width="1" height="1.1" fill="#fff" opacity="0.85"/>
<rect x="808.7" y="498.1" width="1" height="1.1" fill="#fff" opacity="0.85"/>
<rect x="811.7" y="498.1" width="1" height="1.1" fill="#fff" opacity="0.85"/>
</g>
<circle cx="820.4" cy="492.5" r="5.9" fill="#fff"/>
<text x="821.4" y="494.9" font-family="Liberation Sans" font-weight="bold" font-size="9.5" text-anchor="middle" fill="#111">3</text>
</g>
<g clip-path="url(#rsi)">
<rect x="6.5" y="519.6" width="865.0" height="68.79999999999995" fill="#f5e6fe"/>
<line x1="6.5" y1="536.5" x2="871.5" y2="536.5" stroke="#d9d0f0" stroke-width="1"/>
<line x1="6.5" y1="571.5" x2="871.5" y2="571.5" stroke="#d9d0f0" stroke-width="1"/>
<line x1="20.4" y1="513.5" x2="20.4" y2="594.5" stroke="#d9d7f0" stroke-width="1"/>
<line x1="101.6" y1="513.5" x2="101.6" y2="594.5" stroke="#d9d7f0" stroke-width="1"/>
<line x1="182.8" y1="513.5" x2="182.8" y2="594.5" stroke="#d9d7f0" stroke-width="1"/>
<line x1="264.0" y1="513.5" x2="264.0" y2="594.5" stroke="#d9d7f0" stroke-width="1"/>
<line x1="345.2" y1="513.5" x2="345.2" y2="594.5" stroke="#d9d7f0" stroke-width="1"/>
<line x1="426.4" y1="513.5" x2="426.4" y2="594.5" stroke="#d9d7f0" stroke-width="1"/>
<line x1="507.6" y1="513.5" x2="507.6" y2="594.5" stroke="#d9d7f0" stroke-width="1"/>
<line x1="588.8" y1="513.5" x2="588.8" y2="594.5" stroke="#d9d7f0" stroke-width="1"/>
<line x1="670.0" y1="513.5" x2="670.0" y2="594.5" stroke="#d9d7f0" stroke-width="1"/>
<line x1="751.2" y1="513.5" x2="751.2" y2="594.5" stroke="#d9d7f0" stroke-width="1"/>
<line x1="832.4" y1="513.5" x2="832.4" y2="594.5" stroke="#d9d7f0" stroke-width="1"/>
<line x1="6.5" y1="519.6" x2="871.5" y2="519.6" stroke="#a8a8a8" stroke-width="1" stroke-dasharray="6,5" stroke-dashoffset="-0.6"/>
<line x1="6.5" y1="588.4" x2="871.5" y2="588.4" stroke="#a8a8a8" stroke-width="1" stroke-dasharray="6,5" stroke-dashoffset="-0.6"/>
<polyline points="9,559.7 20,549.4 29.5,559.2 39,561.5 49.5,568.1 60.3,556.3 70.6,548.6 80.9,556.3 90.6,554.3 100.9,560.2 110.4,548.1 120.6,553.3 130.9,544.3 141.2,547.4 151.4,552.5 161.7,545.3 171.5,543.5 182.2,545.6 192.5,550.7 202.8,555.3 213,555.3 222.5,556.3 232.3,551.2 242.8,552.5 253,550.7 263.4,554.5 273.6,551.2 283.4,543.5 293.7,545.6 303.2,540.4 313.4,536.3 323.7,525 334,531.2 344.2,526.3 354.5,525 364.8,520.9 374.3,518.3 384.5,538.9 394.3,529.4 404.5,536.3 414.8,537.3 425.6,537.3 435.3,531.2 445.6,538.4 455.9,542.2 465.1,543.5 475.4,540.4 485.7,538.4 496,538.4 506.7,536.3 516.5,529.4 526.7,526 537,523.5 547.3,531.2 557.5,529.4 567.8,527.6 577.6,529.4 587.8,523.5 598.6,531.2 608.4,559.4 618.6,563.3 628.9,554.3 638.4,547.4 648.7,553.3 658.9,554.5 670,566.1 679.5,557.6 689.2,558.4 700.5,551.6 709.7,547 720.1,549 730.6,551.6 740.3,550 750.8,553.5 760.8,549.5 770.7,547" fill="none" stroke="#c47be0" stroke-width="1.2"/>
</g>
<rect x="6.5" y="43.5" width="922.0" height="569.5" fill="none" stroke="#4a4a4a" stroke-width="1.3"/>
<line x1="871.5" y1="43.5" x2="871.5" y2="594.5" stroke="#4a4a4a" stroke-width="1.3"/>
<line x1="6.5" y1="513.5" x2="928.5" y2="513.5" stroke="#4a4a4a" stroke-width="1.3"/>
<line x1="6.5" y1="594.5" x2="871.5" y2="594.5" stroke="#4a4a4a" stroke-width="1.3"/>
<line x1="871.5" y1="48.5" x2="875.0" y2="48.5" stroke="#4a4a4a" stroke-width="1"/>
<text x="878.1" y="52.9" font-family="Liberation Sans" font-size="11.5" font-weight="normal" fill="#4a4a4a" textLength="45.7" lengthAdjust="spacingAndGlyphs">1020.000</text>
<line x1="871.5" y1="84.5" x2="875.0" y2="84.5" stroke="#4a4a4a" stroke-width="1"/>
<text x="878.1" y="88.9" font-family="Liberation Sans" font-size="11.5" font-weight="normal" fill="#4a4a4a" textLength="45.7" lengthAdjust="spacingAndGlyphs">1000.000</text>
<line x1="871.5" y1="121.5" x2="875.0" y2="121.5" stroke="#4a4a4a" stroke-width="1"/>
<text x="878.1" y="125.9" font-family="Liberation Sans" font-size="11.5" font-weight="normal" fill="#4a4a4a" textLength="40.2" lengthAdjust="spacingAndGlyphs">980.000</text>
<line x1="871.5" y1="157.5" x2="875.0" y2="157.5" stroke="#4a4a4a" stroke-width="1"/>
<text x="878.1" y="161.9" font-family="Liberation Sans" font-size="11.5" font-weight="normal" fill="#4a4a4a" textLength="40.2" lengthAdjust="spacingAndGlyphs">960.000</text>
<line x1="871.5" y1="194.5" x2="875.0" y2="194.5" stroke="#4a4a4a" stroke-width="1"/>
<text x="878.1" y="198.9" font-family="Liberation Sans" font-size="11.5" font-weight="normal" fill="#4a4a4a" textLength="40.2" lengthAdjust="spacingAndGlyphs">940.000</text>
<line x1="871.5" y1="230.5" x2="875.0" y2="230.5" stroke="#4a4a4a" stroke-width="1"/>
<text x="878.1" y="234.9" font-family="Liberation Sans" font-size="11.5" font-weight="normal" fill="#4a4a4a" textLength="40.2" lengthAdjust="spacingAndGlyphs">920.000</text>
<line x1="871.5" y1="267.5" x2="875.0" y2="267.5" stroke="#4a4a4a" stroke-width="1"/>
<text x="878.1" y="271.9" font-family="Liberation Sans" font-size="11.5" font-weight="normal" fill="#4a4a4a" textLength="40.2" lengthAdjust="spacingAndGlyphs">900.000</text>
<line x1="871.5" y1="303.5" x2="875.0" y2="303.5" stroke="#4a4a4a" stroke-width="1"/>
<text x="878.1" y="307.9" font-family="Liberation Sans" font-size="11.5" font-weight="normal" fill="#4a4a4a" textLength="40.2" lengthAdjust="spacingAndGlyphs">880.000</text>
<line x1="871.5" y1="340.5" x2="875.0" y2="340.5" stroke="#4a4a4a" stroke-width="1"/>
<text x="878.1" y="344.9" font-family="Liberation Sans" font-size="11.5" font-weight="normal" fill="#4a4a4a" textLength="40.2" lengthAdjust="spacingAndGlyphs">860.000</text>
<line x1="871.5" y1="376.5" x2="875.0" y2="376.5" stroke="#4a4a4a" stroke-width="1"/>
<text x="878.1" y="380.9" font-family="Liberation Sans" font-size="11.5" font-weight="normal" fill="#4a4a4a" textLength="40.2" lengthAdjust="spacingAndGlyphs">840.000</text>
<line x1="871.5" y1="413.5" x2="875.0" y2="413.5" stroke="#4a4a4a" stroke-width="1"/>
<text x="878.1" y="417.9" font-family="Liberation Sans" font-size="11.5" font-weight="normal" fill="#4a4a4a" textLength="40.2" lengthAdjust="spacingAndGlyphs">820.000</text>
<line x1="871.5" y1="449.5" x2="875.0" y2="449.5" stroke="#4a4a4a" stroke-width="1"/>
<text x="878.1" y="453.9" font-family="Liberation Sans" font-size="11.5" font-weight="normal" fill="#4a4a4a" textLength="40.2" lengthAdjust="spacingAndGlyphs">800.000</text>
<line x1="871.5" y1="486.5" x2="875.0" y2="486.5" stroke="#4a4a4a" stroke-width="1"/>
<text x="878.1" y="490.9" font-family="Liberation Sans" font-size="11.5" font-weight="normal" fill="#4a4a4a" textLength="40.2" lengthAdjust="spacingAndGlyphs">780.000</text>
<line x1="871.5" y1="536.5" x2="875.0" y2="536.5" stroke="#4a4a4a" stroke-width="1"/>
<text x="877.9" y="540.9" font-family="Liberation Sans" font-size="11.5" font-weight="normal" fill="#4a4a4a" textLength="39.7" lengthAdjust="spacingAndGlyphs">60.0000</text>
<line x1="871.5" y1="571.5" x2="875.0" y2="571.5" stroke="#4a4a4a" stroke-width="1"/>
<text x="877.9" y="575.9" font-family="Liberation Sans" font-size="11.5" font-weight="normal" fill="#4a4a4a" textLength="39.7" lengthAdjust="spacingAndGlyphs">40.0000</text>
<rect x="871.5" y="177.1" width="50.5" height="15.8" fill="#53b987"/>
<text x="877.7" y="189.3" font-family="Liberation Sans" font-size="11.5" font-weight="normal" fill="#fff" textLength="40.5" lengthAdjust="spacingAndGlyphs">945.710</text>
<text x="15.3" y="609.3" font-family="Liberation Sans" font-size="11.5" font-weight="normal" fill="#4a4a4a" stroke="#4a4a4a" stroke-width="0.2" textLength="10.2" lengthAdjust="spacingAndGlyphs">11</text>
<line x1="20.4" y1="594.5" x2="20.4" y2="597.5" stroke="#4a4a4a" stroke-width="1"/>
<text x="95.0" y="609.3" font-family="Liberation Sans" font-size="11.5" font-weight="bold" fill="#4a4a4a" textLength="13.2" lengthAdjust="spacingAndGlyphs">12</text>
<line x1="101.6" y1="594.5" x2="101.6" y2="597.5" stroke="#4a4a4a" stroke-width="1"/>
<text x="176.2" y="609.3" font-family="Liberation Sans" font-size="11.5" font-weight="normal" fill="#4a4a4a" stroke="#4a4a4a" stroke-width="0.2" textLength="13.2" lengthAdjust="spacingAndGlyphs">13</text>
<line x1="182.8" y1="594.5" x2="182.8" y2="597.5" stroke="#4a4a4a" stroke-width="1"/>
<text x="257.4" y="609.3" font-family="Liberation Sans" font-size="11.5" font-weight="normal" fill="#4a4a4a" stroke="#4a4a4a" stroke-width="0.2" textLength="13.2" lengthAdjust="spacingAndGlyphs">14</text>
<line x1="264.0" y1="594.5" x2="264.0" y2="597.5" stroke="#4a4a4a" stroke-width="1"/>
<text x="338.6" y="609.3" font-family="Liberation Sans" font-size="11.5" font-weight="normal" fill="#4a4a4a" stroke="#4a4a4a" stroke-width="0.2" textLength="13.2" lengthAdjust="spacingAndGlyphs">15</text>
<line x1="345.2" y1="594.5" x2="345.2" y2="597.5" stroke="#4a4a4a" stroke-width="1"/>
<text x="419.8" y="609.3" font-family="Liberation Sans" font-size="11.5" font-weight="normal" fill="#4a4a4a" stroke="#4a4a4a" stroke-width="0.2" textLength="13.2" lengthAdjust="spacingAndGlyphs">16</text>
<line x1="426.4" y1="594.5" x2="426.4" y2="597.5" stroke="#4a4a4a" stroke-width="1"/>
<text x="501.0" y="609.3" font-family="Liberation Sans" font-size="11.5" font-weight="normal" fill="#4a4a4a" stroke="#4a4a4a" stroke-width="0.2" textLength="13.2" lengthAdjust="spacingAndGlyphs">17</text>
<line x1="507.6" y1="594.5" x2="507.6" y2="597.5" stroke="#4a4a4a" stroke-width="1"/>
<text x="582.2" y="609.3" font-family="Liberation Sans" font-size="11.5" font-weight="normal" fill="#4a4a4a" stroke="#4a4a4a" stroke-width="0.2" textLength="13.2" lengthAdjust="spacingAndGlyphs">18</text>
<line x1="588.8" y1="594.5" x2="588.8" y2="597.5" stroke="#4a4a4a" stroke-width="1"/>
<text x="663.4" y="609.3" font-family="Liberation Sans" font-size="11.5" font-weight="bold" fill="#4a4a4a" textLength="13.2" lengthAdjust="spacingAndGlyphs">19</text>
<line x1="670.0" y1="594.5" x2="670.0" y2="597.5" stroke="#4a4a4a" stroke-width="1"/>
<text x="744.6" y="609.3" font-family="Liberation Sans" font-size="11.5" font-weight="normal" fill="#4a4a4a" stroke="#4a4a4a" stroke-width="0.2" textLength="13.2" lengthAdjust="spacingAndGlyphs">20</text>
<line x1="751.2" y1="594.5" x2="751.2" y2="597.5" stroke="#4a4a4a" stroke-width="1"/>
<text x="825.8" y="609.3" font-family="Liberation Sans" font-size="11.5" font-weight="normal" fill="#4a4a4a" stroke="#4a4a4a" stroke-width="0.2" textLength="13.2" lengthAdjust="spacingAndGlyphs">21</text>
<line x1="832.4" y1="594.5" x2="832.4" y2="597.5" stroke="#4a4a4a" stroke-width="1"/>
<text x="14.6" y="64.8" font-family="Liberation Sans" font-size="13" font-weight="bold" fill="#555" textLength="200.7" lengthAdjust="spacingAndGlyphs">Ethereum / Dollar, 180, BITSTAMP</text>
<text x="14.6" y="81.8" font-family="Liberation Sans" font-size="13" font-weight="normal" fill="#555" textLength="65.9" lengthAdjust="spacingAndGlyphs">Объём (20)</text>
<text x="14.6" y="98.7" font-family="Liberation Sans" font-size="13" font-weight="normal" fill="#555" textLength="87.8" lengthAdjust="spacingAndGlyphs">EMA (55, close)</text>
<text x="15.0" y="535.3" font-family="Liberation Sans" font-size="13" font-weight="normal" fill="#555" textLength="78.8" lengthAdjust="spacingAndGlyphs">RSI (14, close)</text>
<text x="6.1" y="16.0" font-family="Liberation Sans" font-size="12.5" font-weight="bold" fill="#3eb1e6" textLength="32.4" lengthAdjust="spacingAndGlyphs">FilFox</text>
<text x="40.5" y="16.0" font-family="Liberation Sans" font-size="12.5" font-weight="normal" fill="#222" stroke="#222" stroke-width="0.25" textLength="84.2" lengthAdjust="spacingAndGlyphs">опубликовано</text>
<text x="128.2" y="16.0" font-family="Liberation Sans" font-size="12.5" font-weight="normal" fill="#222" stroke="#222" stroke-width="0.25" textLength="13.6" lengthAdjust="spacingAndGlyphs">на</text>
<text x="144.9" y="16.0" font-family="Liberation Sans" font-size="12.5" font-weight="normal" fill="#222" stroke="#222" stroke-width="0.25" textLength="102.4" lengthAdjust="spacingAndGlyphs">TradingView.com,</text>
<text x="251.1" y="16.0" font-family="Liberation Sans" font-size="12.5" font-weight="normal" fill="#222" stroke="#222" stroke-width="0.25" textLength="51.9" lengthAdjust="spacingAndGlyphs">Февраль</text>
<text x="305.6" y="16.0" font-family="Liberation Sans" font-size="12.5" font-weight="normal" fill="#222" stroke="#222" stroke-width="0.25" textLength="15.5" lengthAdjust="spacingAndGlyphs">20,</text>
<text x="324.2" y="16.0" font-family="Liberation Sans" font-size="12.5" font-weight="normal" fill="#222" stroke="#222" stroke-width="0.25" textLength="26.9" lengthAdjust="spacingAndGlyphs">2018</text>
<text x="355.2" y="16.0" font-family="Liberation Sans" font-size="12.5" font-weight="normal" fill="#222" stroke="#222" stroke-width="0.25" textLength="34.4" lengthAdjust="spacingAndGlyphs">06:58</text>
<text x="393.1" y="16.0" font-family="Liberation Sans" font-size="12.5" font-weight="normal" fill="#222" stroke="#222" stroke-width="0.25" textLength="25.4" lengthAdjust="spacingAndGlyphs">MSK</text>
<text x="5.9" y="33.8" font-family="Liberation Sans" font-size="12.5" font-weight="bold" fill="#111" stroke="#111" stroke-width="0.1" textLength="116.5" lengthAdjust="spacingAndGlyphs">BITSTAMP:ETHUSD,</text>
<text x="125.2" y="33.8" font-family="Liberation Sans" font-size="12.5" font-weight="bold" fill="#111" stroke="#111" stroke-width="0.1" textLength="20.0" lengthAdjust="spacingAndGlyphs">180</text>
<text x="150.0" y="33.8" font-family="Liberation Sans" font-size="12.5" font-weight="normal" fill="#222" stroke="#222" stroke-width="0.25" textLength="46.6" lengthAdjust="spacingAndGlyphs">945.710</text>
<text x="213.7" y="33.8" font-family="Liberation Sans" font-size="12.5" font-weight="normal" fill="#222" stroke="#222" stroke-width="0.25" textLength="39.0" lengthAdjust="spacingAndGlyphs">+7.660</text>
<text x="255.8" y="33.8" font-family="Liberation Sans" font-size="12.5" font-weight="normal" fill="#222" stroke="#222" stroke-width="0.25" textLength="50.2" lengthAdjust="spacingAndGlyphs">(+0.82%)</text>
<text x="310.0" y="33.8" font-family="Liberation Sans" font-size="12.5" font-weight="bold" fill="#111" stroke="#111" stroke-width="0.1" textLength="12.6" lengthAdjust="spacingAndGlyphs">O:</text>
<text x="323.9" y="33.8" font-family="Liberation Sans" font-size="12.5" font-weight="normal" fill="#2bab2b" stroke="#2bab2b" stroke-width="0.25" textLength="46.2" lengthAdjust="spacingAndGlyphs">943.480</text>
<text x="373.9" y="33.8" font-family="Liberation Sans" font-size="12.5" font-weight="bold" fill="#111" stroke="#111" stroke-width="0.1" textLength="12.9" lengthAdjust="spacingAndGlyphs">H:</text>
<text x="387.8" y="33.8" font-family="Liberation Sans" font-size="12.5" font-weight="normal" fill="#2bab2b" stroke="#2bab2b" stroke-width="0.25" textLength="46.3" lengthAdjust="spacingAndGlyphs">945.740</text>
<text x="438.4" y="33.8" font-family="Liberation Sans" font-size="12.5" font-weight="bold" fill="#111" stroke="#111" stroke-width="0.1" textLength="9.6" lengthAdjust="spacingAndGlyphs">L:</text>
<text x="449.0" y="33.8" font-family="Liberation Sans" font-size="12.5" font-weight="normal" fill="#2bab2b" stroke="#2bab2b" stroke-width="0.25" textLength="46.3" lengthAdjust="spacingAndGlyphs">939.520</text>
<text x="499.1" y="33.8" font-family="Liberation Sans" font-size="12.5" font-weight="bold" fill="#111" stroke="#111" stroke-width="0.1" textLength="10.5" lengthAdjust="spacingAndGlyphs">C:</text>
<text x="510.7" y="33.8" font-family="Liberation Sans" font-size="12.5" font-weight="normal" fill="#2bab2b" stroke="#2bab2b" stroke-width="0.25" textLength="46.3" lengthAdjust="spacingAndGlyphs">945.710</text>
<polygon points="199.9,34.8 211,34.8 205.45,23.9" fill="#1aa31a"/>
<text x="5.3" y="633.9" font-family="Liberation Sans" font-size="13.5" font-weight="normal" fill="#111" stroke="#111" stroke-width="0.2" textLength="125.0" lengthAdjust="spacingAndGlyphs">Создано при помощи</text>
<text x="169.7" y="633.9" font-family="Liberation Sans" font-size="13.5" font-weight="normal" fill="#38a7e0" stroke="#38a7e0" stroke-width="0.15" textLength="70.7" lengthAdjust="spacingAndGlyphs">TradingView</text>
<g fill="#58bce5"><circle cx="144.5" cy="633.2" r="4.6"/><circle cx="151.2" cy="630.4" r="7.1"/><circle cx="155.5" cy="632" r="5.5"/><circle cx="159.6" cy="633.9" r="4.1"/><rect x="141.5" y="632" width="19" height="5.9" rx="1.5"/></g>
<polyline points="139,637.2 148.6,629.3 154.1,636.3 161,628.3 165,624" fill="none" stroke="#f0f3f6" stroke-width="1.4" stroke-linejoin="miter"/>
</svg>
</body></html>
